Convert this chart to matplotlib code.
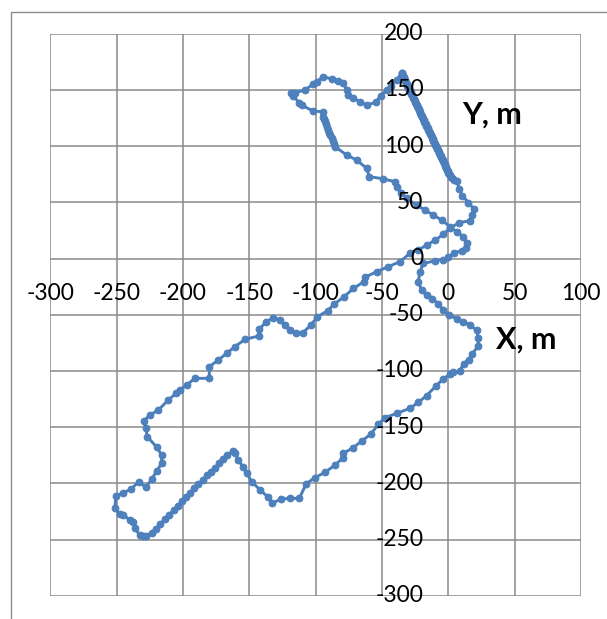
import matplotlib
matplotlib.use("Agg")
import matplotlib.pyplot as plt
from matplotlib.patches import Rectangle
from matplotlib.transforms import offset_copy

# ---- data (metres) ----
# dense straight stretch from the northern peak down to (2.5, 71.3)
x_dense = [-35.1, -34.6, -34.2, -33.7, -33.2, -32.8, -32.3, -31.7, -31.2, -30.8, -30.3, -29.8, -29.3,
           -28.8, -28.3, -27.8, -27.3, -26.9, -26.4, -25.9, -25.4, -24.9, -24.4, -23.9, -23.4, -22.9,
           -22.4, -22.0, -21.5, -21.0, -20.5, -20.0, -19.5, -19.0, -18.5, -18.0, -17.5, -17.1, -16.6,
           -16.1, -15.6, -15.1, -14.6, -14.1, -13.6, -13.1, -12.6, -12.2, -11.7, -11.2, -10.7, -10.2,
           -9.7, -9.2, -8.7, -8.2, -7.7, -7.3, -6.8, -6.3, -5.8, -5.3, -4.8, -4.3, -3.8, -3.3, -2.8,
           -2.4, -1.9, -1.4, -0.9, -0.4, 0.1, 0.6, 1.2, 1.8, 2.5]
y_dense = [164.8, 163.6, 162.4, 161.2, 160.0, 158.7, 157.5, 156.2, 155.0, 153.8, 152.6, 151.3, 150.1,
           148.9, 147.7, 146.4, 145.2, 144.0, 142.8, 141.5, 140.3, 139.0, 137.8, 136.6, 135.4, 134.1,
           132.9, 131.7, 130.5, 129.2, 128.0, 126.8, 125.6, 124.3, 123.1, 121.8, 120.6, 119.4, 118.2,
           116.9, 115.7, 114.5, 113.3, 112.0, 110.8, 109.6, 108.4, 107.1, 105.9, 104.7, 103.5, 102.2,
           101.0, 99.7, 98.5, 97.3, 96.1, 94.8, 93.6, 92.4, 91.2, 89.9, 88.7, 87.5, 86.3, 85.0, 83.8,
           82.5, 81.3, 80.1, 78.9, 77.6, 76.4, 75.1, 73.9, 72.6, 71.3]
# remainder of the closed loop
x_rest = [4.0, 6.5, 8.2, 10.3, 15.2, 19.4, 17.6, 16.4, 8.3, 1.3, -3.8, -10.0, -16.3, -22.6, -28.9, -36.4,
          -45.2, -54.0, -62.8, -63.5, -71.5, -78.5, -86.0, -91.0, -98.6, -103.6, -109.5, -115.0, -119.3,
          -123.0, -126.8, -131.9, -137.5, -142.4, -143.0, -153.2, -160.7, -167.0, -173.3, -180.1, -180.1,
          -190.9, -197.2, -202.2, -205.2, -211.0, -218.5, -224.8, -229.5, -228.0, -226.8, -219.8, -216.0,
          -216.0, -219.8, -223.6, -227.9, -233.3, -239.2, -245.0, -250.5, -251.3, -247.4, -244.9, -239.9,
          -237.4, -236.1, -232.5, -230.0, -227.5,
          -223.6, -220.5, -217.0, -213.5, -210.3, -207.0, -204.0, -200.5, -197.5, -194.5, -191.5, -188.5,
          -185.2, -182.0, -178.9, -175.8, -172.6, -169.5, -166.5, -162.0,
          -160.7, -158.2, -154.9, -151.9, -148.1, -141.9, -135.6, -132.6, -126.1, -119.5, -112.3, -107.0,
          -100.5, -92.9, -85.4, -79.1, -79.1, -71.6, -65.3, -58.5, -52.7, -47.7, -38.9, -28.9, -22.6,
          -16.3, -9.5, -4.0, 1.0, 3.5, 8.5, 11.5, 15.5, 18.0, 22.6, 22.6, 21.4, 16.3, 11.3, 6.3, 0.7,
          -3.8, -7.5, -12.6, -16.3, -20.1, -22.6, -21.4, -18.8, -10.0, -4.3, 0.0, 4.3, 10.1, 13.3, 13.8,
          11.3, 6.3, 1.3, -5.0, -11.3, -17.6, -23.9, -31.4, -35.5, -38.9, -40.2, -49.5, -59.5, -61.5,
          -69.1, -76.6, -85.4, -86.3, -87.2, -88.0, -88.9, -89.7, -90.5, -91.3, -92.0, -92.8, -93.5,
          -94.2, -94.2, -101.8, -110.5, -112.2, -117.0, -118.5, -115.5, -108.0, -101.8, -99.2, -94.2,
          -87.9, -82.9, -79.1, -76.6, -75.4, -71.6, -66.6, -61.5, -54.5, -51.0, -46.5, -43.5, -39.0, -35.1]
y_rest = [70.0, 68.8, 62.0, 56.0, 49.8, 43.8, 38.7, 33.6, 31.9, 27.2, 21.5, 16.2, 12.0, 7.6, 4.6, -2.8,
          -7.2, -11.7, -16.8, -20.6, -26.6, -34.0, -40.6, -46.5, -51.8, -59.2, -66.0, -66.6, -63.6,
          -59.2, -54.7, -52.8, -56.5, -63.0, -69.0, -71.9, -78.4, -84.4, -90.3, -96.2, -106.6,
          -106.6, -112.6, -117.0, -120.0, -125.9, -134.8, -139.2, -144.5, -151.0, -158.5, -167.8, -174.8,
          -182.2, -189.2, -196.5, -203.6, -198.5, -205.4, -208.3, -211.3, -222.3, -227.4, -228.3, -232.7,
          -234.0, -240.2, -246.3, -247.0, -247.0,
          -244.0, -240.5, -236.0, -232.0, -228.0, -224.0, -220.0, -216.0, -212.0, -208.5, -204.5, -201.0,
          -197.0, -193.0, -189.6, -186.0, -182.2, -178.5, -175.0, -171.0,
          -173.4, -179.3, -185.2, -191.1, -198.5, -205.9, -212.5, -217.8, -213.9, -213.4, -213.4, -200.3,
          -194.9, -190.3, -183.7, -177.2, -173.3, -168.3, -162.4, -156.4, -147.5, -141.6, -137.8, -133.3, -128.0,
          -122.0, -113.5, -107.5, -103.0, -101.0, -100.5, -93.5, -90.0, -84.7, -78.0, -70.5, -64.0, -58.8, -56.4, -53.4, -50.5,
          -46.0, -40.1, -35.6, -32.6, -28.2, -20.8, -11.9, -4.4, -2.1, -0.9, 0.9, 5.1, 6.9, 9.0, 13.5,
          19.4, 23.9, 28.3, 34.2, 38.7, 43.1, 47.6, 53.5, 58.0, 64.0, 68.3, 71.0, 72.8, 80.2,
          87.6, 92.1, 99.5, 102.0, 104.5, 107.0, 109.5, 112.0, 114.5, 117.0, 119.5, 122.0, 124.5,
          126.2, 130.7, 131.0, 136.6, 138.1, 145.0, 147.0, 147.5, 149.9, 155.2, 157.3, 161.8,
          159.7, 157.6, 155.9, 150.0, 145.5, 142.6, 139.6, 136.5, 139.0, 145.0, 149.5, 153.5, 159.0, 164.8]
x_m = x_dense + x_rest
y_m = y_dense + y_rest

x_ticks = [-300, -250, -200, -150, -100, -50, 0, 50, 100]
y_ticks = [-300, -250, -200, -150, -100, -50, 0, 50, 100, 150, 200]
x_title = "X, m"
y_title = "Y, m"

W, H = 607, 619
fig = plt.figure(figsize=(W / 100, H / 100), dpi=100)
fig.patch.set_facecolor("white")

# outer chart border (extends past right/bottom edges)
fig.patches.append(Rectangle((10.5 / W, -0.05), 1.2, (H - 11.5) / H + 0.05,
                             transform=fig.transFigure, fill=False,
                             edgecolor="#8c8c8c", linewidth=1.0))

left, right, top, bottom = 50.2, 581.0, 33.7, 595.7
ax = fig.add_axes([left / W, 1 - bottom / H, (right - left) / W, (bottom - top) / H])
ax.set_xlim(-300, 100)
ax.set_ylim(-300, 200)
for s in ax.spines.values():
    s.set_visible(False)
ax.set_xticks([])
ax.set_yticks([])
ax.patch.set_alpha(0)

grid_c = "#8a8a8a"
for xv in x_ticks:
    ax.axvline(xv, color=grid_c, lw=1.1, zorder=1)
for yv in y_ticks:
    ax.axhline(yv, color=grid_c, lw=1.1, zorder=1)

font = "Lato"
tx = offset_copy(ax.transData, fig=fig, x=0, y=-34.5, units="dots")
for xv in x_ticks:
    ax.text(xv, 0, str(xv), transform=tx, ha="center", va="center",
            fontsize=16.5, family=font, color="black", zorder=4)
ty = offset_copy(ax.transData, fig=fig, x=-25, y=0, units="dots")
for yv in y_ticks:
    ax.text(0, yv, str(yv), transform=ty, ha="right", va="center",
            fontsize=16.5, family=font, color="black", zorder=4)

ax.plot(x_m, y_m, color="#4A7EBB", lw=2.1, marker="o", markersize=5.0,
        markerfacecolor="#4F81BD", markeredgecolor="#4A7EBB", markeredgewidth=0.6,
        zorder=3, clip_on=False)

ax.text(10.3, 127.7, y_title, ha="left", va="center", fontsize=22, fontweight="bold",
        family=font, color="black", zorder=5)
ax.text(36.0, -72.0, x_title, ha="left", va="center", fontsize=22, fontweight="bold",
        family=font, color="black", zorder=5)

fig.savefig("out.png", dpi=100, facecolor="white")
